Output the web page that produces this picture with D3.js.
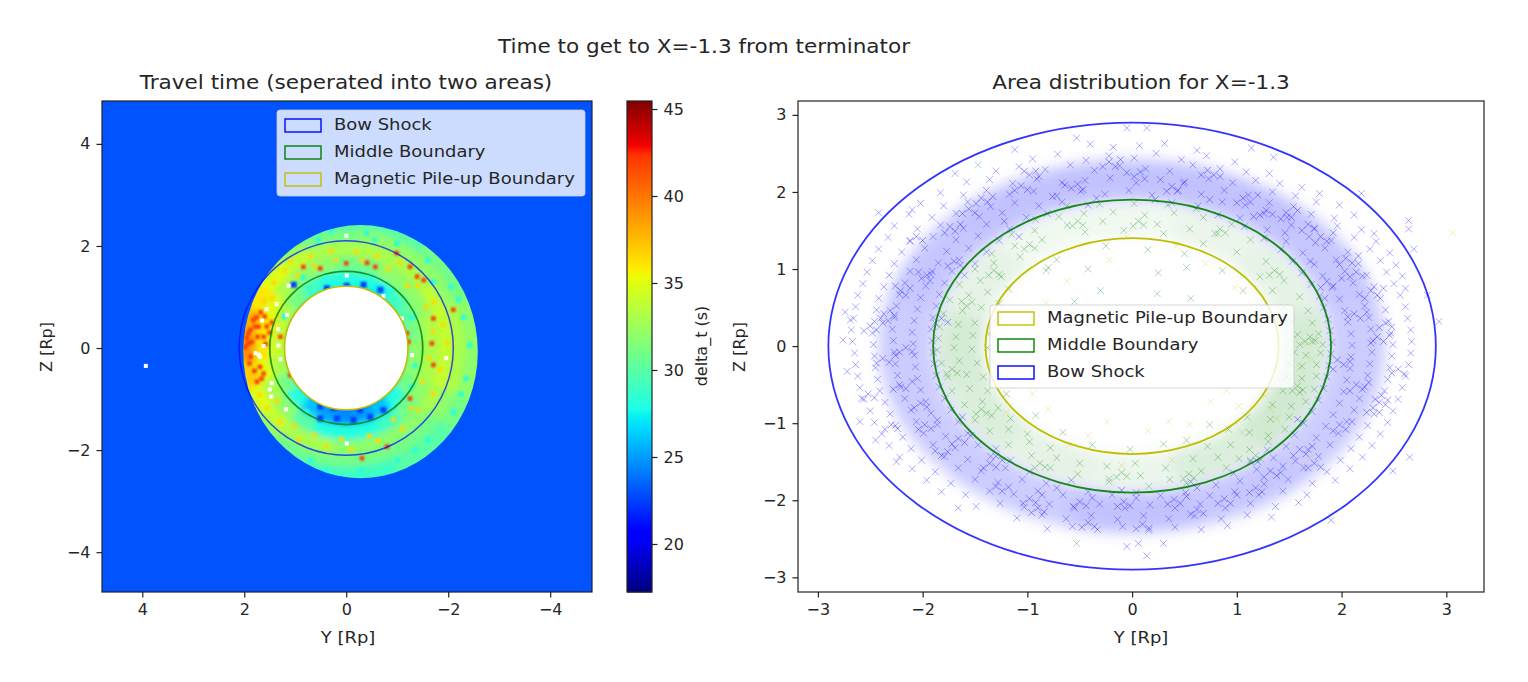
<!DOCTYPE html>
<html><head><meta charset="utf-8">
<script src="https://cdn.jsdelivr.net/npm/d3@7"></script>
<style>html,body{margin:0;background:#fff}svg{display:block}text{font-family:"DejaVu Sans";fill:#262626}</style>
</head><body><svg id="c" width="1528" height="682"></svg>
<script>
// Hand-estimated from the picture: individual samples in the dense zones cannot be read,
// so the heat map is a sector table plus visible specks, and the scatter is a sparser, estimated subset.
const titleMain="Time to get to X=-1.3 from terminator";
const titleLeft="Travel time (seperated into two areas)";
const titleRight="Area distribution for X=-1.3";
const ticksLeft=[4,2,0,-2,-4];
const ticksBar=[20,25,30,35,40,45];
const ticksRight=[-3,-2,-1,0,1,2,3];
const radiusBow=[2.1,2.9], radiusMid=[1.5,1.9], radiusMpb=[1.21,1.4];
const backgroundValue=23;
const bandEdges=[1.15,1.5,1.8,2.1,2.35,3.0];
// 24 sectors of 15 degrees, clockwise from top of the plot
const band0=[28,28,27.5,29,30,31,32,32,31,28,26,25,24.5,25,26,28,31,33,34,34,33,31,29,28];
const band1=[31,31,32,32,32,33,33,33,32,31,29,28,28,28,30,32,33,35,36,36,35,33,32,32];
const band2=[33,33,33,33,34,34,34,34,33,32,32,32,32,33,33,34,35,37,39,38,36,35,34,33];
const band3=[31,32,32,32,32,33,33,33,32,31,31,31,31,31,31,32,33,35,36,36,34,33,32,31];
const band4=[30,30,30,31,31,32,32,32,31,30,30,29,29,29,29,30,31,32,33,33,32,31,30,30];
const discShape=[-0.28,-0.07,2.3,2.48];
const holeShape=[0,0,1.21,1.22];
const whiteSpots=[0,2.2,-.01,1.42,1.13,1.22,1.56,.76,1.65,.54,1.36,.86,1.16,.65,1.33,.37,1.78,-.1,1.72,-.13,1.69,-.17,1.62,.04,1.33,.05,1.29,-.22,1.46,-.69,1.5,-.81,1.47,-.95,1.18,-1.2,-.01,-1.87,-1.29,-.14,-1.96,-.2,-.73,1.02,-1.09,.58,.9,-.69,3.93,-.35];
const hotSpots=[1.33,1.86,0,1.66,-.41,1.67,-.99,1.86,-1.52,1.33,-1.39,1.4,-1.19,.29,-1.22,.12,-1.71,-.33,-1.68,.09,-2.1,.75,1.75,-.66,1.62,-.5,1.88,-.17,1.92,.29,1.82,.55,1.72,.42,1.62,.22,1.85,.12,1.69,-.37,1.78,.42,1.92,.09,1.56,.42,1.29,.22,1.1,-.53,-.31,-2.16,-.8,-1.93,-1.25,-.99,.84,1.59,.51,1.56,-.57,1.59,-1.71,.58,-1.25,1.59,1.95,.2,1.88,.36,1.76,.6,1.68,.7,1.6,.62,1.98,.02,1.9,-.3,1.8,-.45,1.66,-.6,1.74,.22,1.58,.08,1.5,.3,1.46,.5];
const warmSpots=[1.1,1.7,.7,1.8,.3,1.9,-.2,1.88,-.6,1.8,-1.05,1.68,-1.4,1.22,-1.72,.9,-1.9,.46,-1.98,.1,-1.84,-.42,-1.7,-.9,-1.42,-1.22,-1.1,-1.58,-.62,-1.82,-.1,-1.98,.4,-1.94,.92,-1.8,1.3,-1.44,1.56,-1.18,1.7,-.92,1.92,-.8,1.42,1.28,1.2,1.52,.95,1.42,.62,1.6,.2,1.72,-.3,1.72,-.82,1.55,-1.2,1.22,-1.56,.8,-1.7,.32,-1.62,-.2,-1.5,-.66,-1.28,-1.18,-.92,-1.4,-.45,-1.72,.1,-1.78,.62,-1.7,1.02,-1.52,1.36,-1.04,1.6,.95,1.45,.98,1.35,.62,1.62,.9];
const tealSpots=[.9,2.15,.3,2.3,-.4,2.25,-1,2.05,-1.6,1.72,-2.05,1.2,-2.3,.6,-2.42,.05,-2.35,-.6,-2.1,-1.25,-1.6,-1.8,-1,-2.2,-.3,-2.4,.4,-2.4,1,-2.2,1.5,-1.85,1.85,-1.4,1.22,.62,-1.3,.6,-1.35,-.35,-1.28,-.75,.85,1.38,-.5,1.4,-.9,1.12,.4,1.36,.78,-1.25,-.95,-1.15,-.55,2.12,.55,2.12,-1.7,1.3,-2.2,.95,-2.25,-.9,-1.35,-2,.7,-2.2];
const coldSpots=[.51,-1.15,.25,-1.18,-.01,-1.15,-.27,-1.22,.51,-1.38,.18,-1.38,-.14,-1.41,-.47,-1.35,-.73,-1.22,.38,1.17,-.01,1.22,-.34,1.24,-.67,1.14,1.03,1.24];
const legendLeft=["Bow Shock","Middle Boundary","Magnetic Pile-up Boundary"];
const legendRight=["Magnetic Pile-up Boundary","Middle Boundary","Bow Shock"];
// soft density wash per 30-degree sector (clockwise from top)
const washBlue=[.24,.24,.22,.2,.2,.22,.24,.2,.2,.2,.22,.24];
const washGreen=[.06,.08,.1,.16,.18,.14,.08,.1,.14,.16,.1,.06];
const bluePts=[-.53,2.7,-.05,2.83,.14,2.83,-1.12,2.55,1.14,2.57,1.35,2.45,-1.69,2.24,-2.1,1.77,-2.42,1.73,2.19,1.98,2.64,1.63,2.64,1.52,2.69,1.26,2.93,.32,2.82,.66,-2.74,.44,-2.69,.34,-2.76,.08,-2.72,-.33,-2.6,-.98,-2.45,-1.22,-2.25,-1.5,-1.66,-2.1,-.05,-2.6,.06,-2.56,.14,-2.72,.3,-2.56,1.9,-2.26,2.49,-1.62,2.65,-1.44,
-.4,2.62,-.18,2.58,.07,2.6,.31,2.63,.62,2.54,-.95,2.43,-.71,2.49,-.44,2.41,-.22,2.47,.02,2.44,.23,2.5,.47,2.42,.71,2.47,.98,2.39,
-1.3,2.27,-1.08,2.33,-.83,2.29,-.59,2.35,-.36,2.28,-.12,2.34,.13,2.3,.36,2.27,.58,2.35,.84,2.3,1.09,2.26,1.31,2.24,
-1.58,2.13,-1.36,2.16,-1.14,2.11,-.91,2.17,-.67,2.12,-.45,2.15,-.21,2.18,.04,2.12,.27,2.16,.49,2.11,.73,2.17,.96,2.12,1.18,2.15,1.41,2.11,1.62,2.06,
-1.83,1.99,-1.61,1.96,-1.39,2.02,-1.17,1.97,-.94,2.01,-.72,1.95,-.49,2.01,-.26,1.97,-.03,2.02,.19,1.96,.43,2.01,.66,1.97,.88,2.02,1.11,1.96,1.34,2,1.56,1.95,1.79,1.98,
-2.02,1.85,-1.8,1.82,-1.57,1.87,-1.35,1.81,-1.12,1.86,-.89,1.82,-.67,1.87,-.42,1.83,.38,1.86,.63,1.82,.86,1.87,1.08,1.83,1.31,1.86,1.54,1.81,1.76,1.87,1.98,1.83,
-2.13,1.71,-1.91,1.67,-1.68,1.72,-1.46,1.68,-1.24,1.73,-1.01,1.67,-.81,1.72,.82,1.7,1.03,1.66,1.26,1.72,1.48,1.67,1.71,1.71,1.93,1.66,2.12,1.7,
-2.27,1.56,-2.05,1.52,-1.83,1.57,-1.61,1.53,-1.39,1.58,-1.17,1.52,1.07,1.55,1.29,1.51,1.52,1.57,1.74,1.52,1.96,1.56,2.19,1.51,2.31,1.46,
-2.33,1.41,-2.12,1.37,-1.9,1.42,-1.68,1.38,-1.47,1.43,-1.27,1.37,1.26,1.4,1.47,1.36,1.69,1.42,1.9,1.37,2.12,1.41,2.33,1.36,
-2.42,1.26,-2.2,1.22,-1.98,1.27,-1.77,1.23,-1.56,1.27,-1.39,1.22,1.42,1.25,1.63,1.21,1.84,1.27,2.06,1.22,2.27,1.26,2.46,1.21,
-2.48,1.11,-2.27,1.07,-2.06,1.12,-1.85,1.08,-1.65,1.12,-1.5,1.07,1.53,1.1,1.74,1.06,1.95,1.12,2.16,1.07,2.37,1.11,2.52,1.05,
-2.53,.96,-2.32,.92,-2.12,.97,-1.92,.93,-1.72,.97,-1.6,.92,1.62,.95,1.82,.91,2.03,.97,2.24,.92,2.43,.96,2.58,.91,
-2.57,.81,-2.37,.77,-2.17,.82,-1.97,.78,-1.79,.82,1.71,.8,1.91,.76,2.11,.82,2.31,.77,2.5,.81,2.61,.75,
-2.62,.66,-2.42,.62,-2.22,.67,-2.02,.63,-1.84,.67,1.79,.65,1.98,.61,2.17,.67,2.37,.62,2.56,.66,
-2.64,.51,-2.44,.47,-2.25,.52,-2.05,.48,-1.87,.52,1.83,.5,2.03,.46,2.22,.52,2.42,.47,2.61,.51,
-2.66,.36,-2.46,.32,-2.27,.37,-2.08,.33,-1.9,.37,1.87,.35,2.06,.31,2.26,.37,2.45,.32,2.63,.36,
-2.68,.21,-2.48,.17,-2.29,.22,-2.1,.18,-1.92,.22,1.89,.2,2.09,.16,2.28,.22,2.47,.17,2.66,.21,
-2.67,.06,-2.47,.02,-2.28,.07,-2.09,.03,-1.91,.07,1.91,.05,2.1,.01,2.3,.07,2.49,.02,2.67,.06,
-2.65,-.09,-2.46,-.13,-2.27,-.08,-2.08,-.12,-1.9,-.08,1.9,-.1,2.09,-.14,2.29,-.08,2.48,-.13,2.66,-.09,
-2.64,-.24,-2.45,-.28,-2.26,-.23,-2.07,-.27,-1.89,-.23,1.88,-.25,2.08,-.29,2.27,-.23,2.46,-.28,2.64,-.24,
-2.62,-.39,-2.43,-.43,-2.24,-.38,-2.05,-.42,-1.87,-.38,1.86,-.4,2.05,-.44,2.25,-.38,2.44,-.43,2.61,-.39,
-2.6,-.54,-2.41,-.58,-2.21,-.53,-2.02,-.57,-1.84,-.53,1.83,-.55,2.02,-.59,2.22,-.53,2.41,-.58,2.58,-.54,
-2.56,-.69,-2.36,-.73,-2.17,-.68,-1.97,-.72,-1.79,-.68,1.78,-.7,1.98,-.74,2.17,-.68,2.36,-.73,2.54,-.69,
-2.5,-.84,-2.31,-.88,-2.11,-.83,-1.92,-.87,-1.73,-.83,1.72,-.85,1.92,-.89,2.12,-.83,2.31,-.88,2.49,-.84,
-2.46,-.99,-2.26,-1.03,-2.06,-.98,-1.86,-1.02,-1.66,-.98,1.64,-1,1.85,-1.04,2.05,-.98,2.25,-1.03,2.44,-.99,
-2.39,-1.14,-2.19,-1.18,-1.99,-1.13,-1.78,-1.17,-1.57,-1.13,1.55,-1.15,1.76,-1.19,1.97,-1.13,2.17,-1.18,2.37,-1.14,
-2.32,-1.29,-2.11,-1.33,-1.9,-1.28,-1.69,-1.32,-1.47,-1.28,-1.3,-1.33,1.29,-1.35,1.47,-1.3,1.68,-1.34,1.89,-1.28,2.09,-1.33,2.29,-1.29,
-2.22,-1.44,-2.01,-1.48,-1.79,-1.43,-1.57,-1.47,-1.35,-1.43,-1.16,-1.48,1.13,-1.5,1.35,-1.45,1.56,-1.49,1.78,-1.43,1.99,-1.48,2.2,-1.44,
-2.1,-1.59,-1.88,-1.63,-1.66,-1.58,-1.44,-1.62,-1.21,-1.58,-.98,-1.63,.97,-1.65,1.19,-1.6,1.42,-1.64,1.64,-1.58,1.86,-1.63,2.08,-1.59,
-1.96,-1.74,-1.73,-1.78,-1.5,-1.73,-1.28,-1.77,-1.05,-1.73,-.82,-1.78,-.58,-1.74,.56,-1.76,.8,-1.8,1.03,-1.75,1.26,-1.79,1.49,-1.73,1.72,-1.78,1.94,-1.74,
-1.82,-1.89,-1.59,-1.93,-1.36,-1.88,-1.13,-1.92,-.9,-1.88,-.66,-1.93,-.42,-1.89,-.19,-1.93,.04,-1.9,.27,-1.94,.51,-1.9,.74,-1.94,.98,-1.89,1.21,-1.93,1.44,-1.88,1.67,-1.93,
-1.49,-2.08,-1.26,-2.04,-1.03,-2.09,-.79,-2.05,-.55,-2.1,-.31,-2.05,-.07,-2.1,.17,-2.06,.41,-2.1,.65,-2.05,.89,-2.1,1.13,-2.04,1.37,-2.08,1.59,-2.03,
-1.1,-2.23,-.86,-2.19,-.63,-2.24,-.39,-2.2,-.14,-2.25,.11,-2.2,.35,-2.24,.6,-2.2,.85,-2.24,1.1,-2.19,1.33,-2.22,
-.81,-2.37,-.57,-2.34,-.33,-2.38,-.09,-2.34,.16,-2.39,.41,-2.35,.66,-2.38,.91,-2.33];
// tighter clumps seen in the zoomed picture
const blueClumps=[-1.96,.92,-1.91,.97,-2.01,.88,-1.93,.85,-2.04,.96,-2.37,.42,-2.31,.46,-2.4,.36,-2.33,.33,-2.27,.4,-2.21,.72,-2.16,.66,-2.26,.78,-2.12,.75,-1.74,1.55,-1.69,1.49,-1.79,1.47,-1.64,1.58,-1.44,1.92,-1.38,1.87,-1.49,1.85,-1.33,1.94,-.98,2.22,-.92,2.27,-1.03,2.27,-.89,2.2,-.58,2.05,-.52,2.1,-.64,2.09,-.47,2.03,-.22,2.39,-.16,2.33,-.28,2.33,-.11,2.42,.02,2.2,.08,2.26,-.05,2.25,.12,2.17,.38,2.07,.44,2.02,.33,2.01,.5,2.13,.72,2.28,.78,2.22,.66,2.22,.84,2.2,1.06,1.92,1.13,1.87,1,1.86,1.2,1.96,1.47,1.73,1.52,1.67,1.42,1.65,1.58,1.76,1.8,1.42,1.86,1.36,1.75,1.34,1.92,1.47,2.04,1.14,2.1,1.08,1.98,1.06,2.16,1.17,2.28,.72,2.34,.66,2.22,.62,2.4,.75,1.86,.84,1.92,.78,2.0,.88,1.8,.76,2.12,.42,2.18,.36,2.06,.38,2.24,.44,2.34,.12,2.4,.06,2.28,.04,2.46,.14,1.96,-.18,2.02,-.24,1.92,-.3,2.08,-.2,2.14,-.5,2.2,-.56,2.08,-.58,2.26,-.47,2.3,-.8,2.36,-.86,2.24,-.86,2.42,-.76,1.98,-1.02,2.04,-1.08,1.92,-1.1,2.1,-.98,1.6,-1.34,1.66,-1.4,1.54,-1.42,1.72,-1.3,1.32,-1.62,1.38,-1.68,1.26,-1.7,1.44,-1.56,.88,-1.98,.94,-2.04,.82,-2.04,1,-1.93,.4,-1.99,.46,-2.04,.34,-2.05,.52,-1.95,-.08,-2.02,-.02,-2.07,-.14,-2.08,.04,-1.97,-.5,-2.02,-.44,-2.07,-.56,-2.08,-.38,-1.97,-.98,-1.98,-.92,-2.03,-1.04,-2.04,-.86,-1.93,-1.36,-1.52,-1.3,-1.57,-1.42,-1.58,-1.24,-1.48,-1.66,-1.2,-1.6,-1.25,-1.72,-1.27,-1.54,-1.16,-1.98,-1.02,-1.92,-1.07,-2.04,-1.08,-1.86,-.96,-2.22,-.5,-2.16,-.55,-2.28,-.56,-2.1,-.46,-2.38,-.16,-2.32,-.21,-2.44,-.22,-2.26,-.12,-2.5,.26,-2.44,.21,-2.56,.2,-2.38,.3,-2.52,-.62,-2.46,-.67,-2.58,-.68,-2.3,-1.02,-2.24,-1.07,-2.36,-1.08,-2.06,1.42,-2,1.37,-2.12,1.36,-1.56,1.78,-1.5,1.73,-1.62,1.72,-1.06,2.08,-1,2.03,-1.12,2.02,1.28,1.76,1.34,1.71,1.22,1.7,1.68,1.58,1.74,1.53,1.62,1.5,2.14,.96,2.2,.91,2.08,.9,2.42,.3,2.48,.25,2.36,.24,2.54,-.3,2.48,-.35,2.6,-.36,2.38,-.64,2.32,-.69,2.44,-.7,1.74,-1.52,1.8,-1.57,1.68,-1.58,1.18,-1.84,1.24,-1.89,1.12,-1.9,.62,-2.12,.68,-2.17,.56,-2.18,.1,-2.31,.16,-2.36,.04,-2.37,-.42,-2.29,-.36,-2.34,-.48,-2.35,-.9,-2.1,-.84,-2.15,-.96,-2.16,-1.24,-1.88,-1.18,-1.83,-1.3,-1.82,-1.82,-1.42,-1.76,-1.37,-1.88,-1.36,-2.02,-.74,-1.96,-.79,-2.08,-.8,-2.16,-.02,-2.1,-.07,-2.22,-.08,-1.82,.36,-1.76,.31,-1.88,.3,-1.7,1.1,-1.64,1.05,-1.76,1.04,-1.08,1.42,-1.22,1.62,-.76,1.94,-.34,1.92,.22,1.9,.74,1.9,1.16,1.68,1.46,1.47,1.7,1.1,1.84,.62,-1.62,-.92,-1.3,-1.43,-.72,-1.84,-.1,-1.87,.62,-1.84,1.2,-1.5,1.58,-.95];
const greenPts=[-1.47,2.35,-.53,-2.56,-.62,1.82,-.31,1.84,.02,1.85,.34,1.83,.61,1.78,-.92,1.64,-.7,1.68,-.46,1.72,-.18,1.74,.12,1.7,.4,1.73,.68,1.67,.95,1.58,-1.15,1.45,-.93,1.5,-.62,1.57,-.28,1.62,.24,1.58,.55,1.52,.82,1.46,1.13,1.38,-1.34,1.2,-1.12,1.3,-.86,1.38,-.45,1.48,-.08,1.5,.3,1.46,.68,1.33,1,1.22,1.28,1.1,-1.5,1,-1.32,1.08,-1.07,1.16,-.72,1.12,-.25,1.3,.15,1.25,.5,1.2,.86,.98,1.22,.9,1.45,.85,-1.65,.8,-1.45,.85,-1.25,.9,-.82,.98,-.42,1,.25,.95,1.06,.72,1.34,.72,1.6,.64,-1.74,.6,-1.56,.66,-1.38,.7,-1.18,.74,1.45,.5,1.68,.46,-1.8,.42,-1.62,.46,-1.44,.5,-1.27,.55,1.52,.32,1.72,.3,-1.84,.25,-1.66,.28,-1.5,.3,-1.32,.33,1.58,.15,1.78,.16,-1.85,.1,-1.68,.12,-1.52,.14,-1.36,.16,1.6,.02,1.72,.06,1.82,.02,-1.86,-.05,-1.7,-.02,-1.53,-.04,-1.38,-.02,1.55,-.08,1.66,-.12,1.8,-.09,-1.82,-.22,-1.65,-.19,-1.48,-.22,-1.32,-.2,1.5,-.22,1.62,-.26,1.76,-.24,-1.76,-.4,-1.58,-.37,-1.42,-.4,-1.28,-.37,1.48,-.4,1.62,-.42,1.76,-.39,-1.72,-.58,-1.55,-.55,-1.38,-.58,-1.2,-.62,1.44,-.58,1.6,-.6,1.74,-.56,-1.6,-.76,-1.43,-.72,-1.28,-.8,1.34,-.76,1.52,-.78,1.66,-.72,-1.5,-.96,-1.34,-.9,-1.16,-.94,1.1,-.92,1.32,-.95,1.5,-.92,-1.36,-1.1,-1.18,-1.08,-1,-1.14,.92,-1.08,1.12,-1.12,1.3,-1.16,1.46,-1.08,-1.18,-1.28,-.98,-1.24,-.78,-1.32,.72,-1.3,.94,-1.28,1.12,-1.34,1.3,-1.24,-.96,-1.42,-.72,-1.45,-.5,-1.52,-.24,-1.56,.03,-1.52,.32,-1.58,.58,-1.46,.82,-1.44,1.02,-1.46,-.78,-1.58,-.52,-1.66,-.22,-1.72,.08,-1.68,.36,-1.73,.66,-1.62,.9,-1.58,-.38,-1.28,-.02,-1.34,.3,-1.27,-.66,-1.12,.52,-1.22,-.92,-.9,.74,-1.02,-.22,-1.76,.16,-1.82,.52,-1.78,-.8,1.02,.52,1.02,-.3,.72,.24,.68,-.55,.58,.56,.62,
-1.32,.98,-1.27,.93,-1.37,.92,-1.58,.52,-1.53,.57,-1.63,.58,-1.72,-.3,-1.67,-.35,-1.77,-.36,-1.44,-.82,-1.39,-.87,-1.49,-.88,-.88,-1.52,-.83,-1.57,-.93,-1.58,-.1,-1.64,-.05,-1.69,-.15,-1.7,.54,-1.66,.59,-1.71,.49,-1.72,1.18,-1.42,1.23,-1.47,1.13,-1.48,1.58,-.52,1.63,-.57,1.53,-.58,1.7,.12,1.75,.07,1.65,.06,1.36,.98,1.41,.93,1.31,.92,.84,1.52,.89,1.47,.79,1.46,.06,1.62,.11,1.57,.01,1.56,-.52,1.62,-.47,1.57,-.57,1.56,-.98,1.32,-.93,1.27,-1.03,1.26];
const yellowPts=[3.06,1.47,-.05,1.42,.42,1.3,-.22,1.12,.7,1.07,-.62,.84,.98,.76,-.82,.56,.15,-1.1,-.42,-1.16,.35,-.98,.75,-.72,1.02,-.78,-.8,-.82,-.95,-.62,-.24,-.98,.55,-1.02,.9,-.58,1.15,-.48,1.27,-.65,1.45,-.06,1.55,.12,1.68,.04,1.72,-.16,1.6,-.28,1.38,-.94,1.7,-1.45,1.62,-1.56,-.6,-1.28,-.1,-1.55,.38,-1.48,1.05,-1.12,1.32,-.82,1.1,.3,1.24,-.16,-1.2,-.86,-1.25,.4];
const xs=d=>d3.range(0,d.length,2).map(i=>[d[i],d[i+1]]);

const svg=d3.select("#c");
const L={l:102,r:592,t:101,b:592},R={l:798,r:1484,t:101,b:592},C={l:627,r:652};
const xL=d3.scaleLinear([4.79,-4.82],[L.l,L.r]), yL=d3.scaleLinear([-4.78,4.84],[L.b,L.t]);
const xR=d3.scaleLinear([-3.19,3.36],[R.l,R.r]), yR=d3.scaleLinear([-3.19,3.18],[R.b,R.t]);
const jetT=[0,.11,.125,.34,.35,.375,.64,.65,.66,.89,.91,1];
const jetR=[0,0,0,0,0,.114,.91,.96,1,1,.95,.5];
const jetG=[0,0,0,.88,.92,1,1,.96,.92,.2,0,0];
const jetB=[.5,1,1,1,.97,.9,.03,0,0,0,0,0];
const sr=d3.scaleLinear(jetT,jetR),sg=d3.scaleLinear(jetT,jetG),sb=d3.scaleLinear(jetT,jetB);
const norm=d3.scaleLinear([17.24,45.46],[0,1]);
const jet=v=>{const t=norm(v);return d3.rgb(sr(t)*255,sg(t)*255,sb(t)*255)+""};
const defs=svg.append("defs");
defs.append("clipPath").attr("id","clipL").append("rect").attr("x",L.l).attr("y",L.t).attr("width",L.r-L.l).attr("height",L.b-L.t);
defs.append("clipPath").attr("id","clipR").append("rect").attr("x",R.l).attr("y",R.t).attr("width",R.r-R.l).attr("height",R.b-R.t);
const pxL=xL(0)-xL(1), pxY=yL(0)-yL(1);
defs.append("clipPath").attr("id","disc").append("ellipse").attr("cx",xL(discShape[0])).attr("cy",yL(discShape[1])).attr("rx",discShape[2]*pxL).attr("ry",discShape[3]*pxY);
[["blur3",1],["blurHeat",3.2],["blurWash",7]].forEach(([id,s])=>defs.append("filter").attr("id",id).attr("x","-20%").attr("y","-20%").attr("width","140%").attr("height","140%").append("feGaussianBlur").attr("stdDeviation",s));

/* left panel */
const gL=svg.append("g").attr("clip-path","url(#clipL)");
gL.append("rect").attr("x",L.l).attr("y",L.t).attr("width",L.r-L.l).attr("height",L.b-L.t).attr("fill",jet(backgroundValue));
const gDisc=gL.append("g").attr("clip-path","url(#disc)");
const gHeat=gDisc.append("g").attr("filter","url(#blurHeat)").attr("transform",`translate(${xL(0)},${yL(0)})`);
const arc=d3.arc();
[band0,band1,band2,band3,band4].forEach((band,b)=>band.forEach((v,i)=>{
  const a=i*Math.PI/12-Math.PI/24;
  gHeat.append("path").attr("fill",jet(v)).attr("d",arc({innerRadius:bandEdges[b]*pxL,outerRadius:bandEdges[b+1]*pxL,startAngle:a,endAngle:a+Math.PI/12+.01}));
}));
const spots=(arr,col,s,f)=>gDisc.append("g").attr("filter",f||null).selectAll("rect").data(xs(arr)).join("rect")
  .attr("x",d=>xL(d[0])-s/2).attr("y",d=>yL(d[1])-s/2).attr("width",s).attr("height",s).attr("fill",col);
spots(tealSpots,jet(28),5,"url(#blur3)");
spots(warmSpots,jet(36.5),4.5,"url(#blur3)");
spots(hotSpots,jet(42),4.5,"url(#blur3)");
spots(coldSpots,jet(22.5),6,"url(#blur3)");
gL.append("ellipse").attr("cx",xL(holeShape[0])).attr("cy",yL(holeShape[1])).attr("rx",holeShape[2]*pxL).attr("ry",holeShape[3]*pxY).attr("fill","#fff");
gL.append("g").selectAll("rect").data(xs(whiteSpots)).join("rect").attr("x",d=>xL(d[0])-2).attr("y",d=>yL(d[1])-2).attr("width",4).attr("height",4).attr("fill","#fff");
const circ=(g,x,y,r,c,w)=>g.append("ellipse").attr("cx",x(0)).attr("cy",y(0)).attr("rx",Math.abs(x(r)-x(0))).attr("ry",Math.abs(y(r)-y(0))).attr("fill","none").attr("stroke",c).attr("stroke-width",w);
const BLUE="#0000ff",GREEN="#008000",YEL="#bfbf00";
circ(gL,xL,yL,radiusBow[0],BLUE,1.5).attr("stroke-opacity",.7);
circ(gL,xL,yL,radiusMid[0],GREEN,1.8).attr("stroke-opacity",.8);
circ(gL,xL,yL,radiusMpb[0],YEL,1.5);

/* colour bar */
const yC=d3.scaleLinear([17.24,45.46],[L.b,L.t]);
svg.append("g").selectAll("rect").data(d3.range(0,L.b-L.t)).join("rect").attr("x",C.l).attr("width",C.r-C.l).attr("y",d=>L.t+d).attr("height",1.5).attr("fill",d=>jet(yC.invert(L.t+d+.5)));

/* right panel */
const gR=svg.append("g").attr("clip-path","url(#clipR)");
const pxR=[xR(1)-xR(0),yR(0)-yR(1)];
const washG=(vals,inner,outer,col)=>{
  const g=gR.append("g").attr("filter","url(#blurWash)").append("g").attr("transform",`translate(${xR(0)},${yR(0)}) scale(${pxR[0]},${pxR[1]})`);
  vals.forEach((o,i)=>{const a=i*Math.PI/6-Math.PI/12;
    g.append("path").attr("fill",col).attr("fill-opacity",o).attr("d",arc({innerRadius:inner,outerRadius:outer,startAngle:a,endAngle:a+Math.PI/6+.002}));});
};
washG(washGreen,1.42,1.86,GREEN);
washG(washBlue,1.9,2.42,BLUE);
const cross="M-3.4,-3.4L3.4,3.4M-3.4,3.4L3.4,-3.4";
const marks=(arr,c,o)=>gR.append("g").selectAll("path").data(xs(arr)).join("path").attr("d",cross).attr("transform",d=>`translate(${xR(d[0])},${yR(d[1])})`).attr("fill","none").attr("stroke",c).attr("stroke-width",.9).attr("stroke-opacity",o);
marks(bluePts,BLUE,.36);
marks(blueClumps,BLUE,.42);
marks(greenPts,GREEN,.34);
marks(yellowPts,YEL,.28);
circ(gR,xR,yR,radiusBow[1],BLUE,1.8).attr("stroke-opacity",.8);
circ(gR,xR,yR,radiusMid[1],GREEN,1.8).attr("stroke-opacity",.9);
circ(gR,xR,yR,radiusMpb[1],YEL,1.8);

/* legends */
const SX=1.123;
function legend(x,y,w,h,items,cols,dy,first){
  const g=svg.append("g");
  g.append("rect").attr("x",x).attr("y",y).attr("width",w).attr("height",h).attr("rx",3).attr("fill","#fff").attr("fill-opacity",.8).attr("stroke","#ccc").attr("stroke-opacity",.8);
  items.forEach((t,i)=>{
    const cy=y+first+i*dy;
    g.append("rect").attr("x",x+8).attr("y",cy-6).attr("width",36).attr("height",13).attr("fill","none").attr("stroke",cols[i]).attr("stroke-width",1.4);
    g.append("text").attr("transform",`translate(${x+57},${cy+5}) scale(${SX},1)`).attr("font-size",16).text(t);
  });
}
legend(277,110,308,86,legendLeft,[BLUE,GREEN,YEL],27,15);
legend(990,305,304,83,legendRight,[YEL,GREEN,BLUE],27,13);

/* axes */
const fmt=d=>String(d).replace("-","\u2212");
function ax(gen,tx,ty){const g=svg.append("g").attr("transform",`translate(${tx},${ty})`).call(gen);
  g.selectAll("text").attr("font-size",16).attr("font-family","DejaVu Sans");
  g.selectAll("line").attr("stroke","#222").attr("stroke-width",1.2);
  g.select(".domain").remove();return g;}
ax(d3.axisBottom(xL).tickValues(ticksLeft).tickFormat(fmt).tickSize(5.5).tickPadding(6),0,L.b);
ax(d3.axisLeft(yL).tickValues(ticksLeft).tickFormat(fmt).tickSize(5.5).tickPadding(6),L.l,0);
ax(d3.axisRight(yC).tickValues(ticksBar).tickFormat(fmt).tickSize(5.5).tickPadding(6),C.r,0);
ax(d3.axisBottom(xR).tickValues(ticksRight).tickFormat(fmt).tickSize(5.5).tickPadding(6),0,R.b);
ax(d3.axisLeft(yR).tickValues(ticksRight).tickFormat(fmt).tickSize(5.5).tickPadding(6),R.l,0);
[[L.l,L.r],[C.l,C.r],[R.l,R.r]].forEach(([a,b])=>svg.append("rect").attr("x",a).attr("y",L.t).attr("width",b-a).attr("height",L.b-L.t).attr("fill","none").attr("stroke","#222").attr("stroke-width",1.2));

/* texts */
const txt=(x,y,s,size,rot)=>svg.append("text").attr("text-anchor","middle").attr("font-size",size).attr("transform",`translate(${x},${y})${rot?" rotate(-90)":` scale(${SX},1)`}`).text(s);
txt(704,53,titleMain,19.2);
txt(346,89,titleLeft,19.2);
txt(1141,89,titleRight,19.2);
txt(348,643,"Y [Rp]",16);
txt(1141,643,"Y [Rp]",16);
txt(52,347,"Z [Rp]",16,true);
txt(745,347,"Z [Rp]",16,true);
txt(707,346,"delta_t (s)",16,true);
</script></body></html>
